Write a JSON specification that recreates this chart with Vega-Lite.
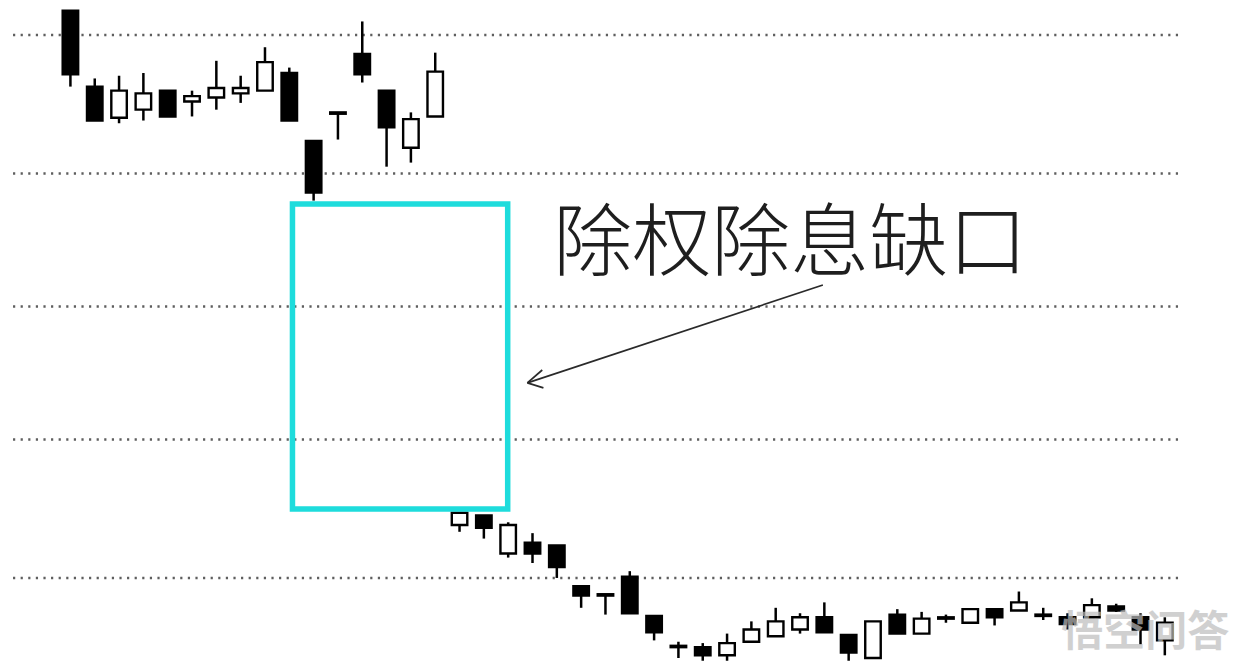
{
  "$schema": "https://vega.github.io/schema/vega-lite/v6.json",
  "width": 1235,
  "height": 664,
  "padding": 0,
  "autosize": {"type": "fit", "contains": "padding"},
  "background": "#ffffff",
  "config": {"view": {"stroke": null}},
  "datasets": {
    "candles": [
      {"i":0,"o":14.18,"c":13.71,"h":14.18,"l":13.62,"d":"down"},
      {"i":1,"o":13.62,"c":13.37,"h":13.68,"l":13.37,"d":"down"},
      {"i":2,"o":13.39,"c":13.59,"h":13.70,"l":13.35,"d":"up"},
      {"i":3,"o":13.45,"c":13.57,"h":13.72,"l":13.37,"d":"up"},
      {"i":4,"o":13.59,"c":13.40,"h":13.59,"l":13.40,"d":"down"},
      {"i":5,"o":13.51,"c":13.55,"h":13.59,"l":13.40,"d":"up"},
      {"i":6,"o":13.54,"c":13.61,"h":13.81,"l":13.45,"d":"up"},
      {"i":7,"o":13.57,"c":13.61,"h":13.70,"l":13.50,"d":"up"},
      {"i":8,"o":13.59,"c":13.80,"h":13.91,"l":13.59,"d":"up"},
      {"i":9,"o":13.72,"c":13.37,"h":13.76,"l":13.37,"d":"down"},
      {"i":10,"o":13.22,"c":12.84,"h":13.22,"l":12.78,"d":"down"},
      {"i":11,"o":13.43,"c":13.42,"h":13.43,"l":13.23,"d":"down"},
      {"i":12,"o":13.86,"c":13.71,"h":14.10,"l":13.65,"d":"down"},
      {"i":13,"o":13.59,"c":13.32,"h":13.59,"l":13.03,"d":"down"},
      {"i":14,"o":13.17,"c":13.38,"h":13.43,"l":13.06,"d":"up"},
      {"i":15,"o":13.40,"c":13.73,"h":13.87,"l":13.40,"d":"up"},
      {"i":16,"o":10.39,"c":10.48,"h":10.48,"l":10.34,"d":"up"},
      {"i":17,"o":10.46,"c":10.37,"h":10.46,"l":10.29,"d":"down"},
      {"i":18,"o":10.18,"c":10.39,"h":10.41,"l":10.15,"d":"up"},
      {"i":19,"o":10.26,"c":10.18,"h":10.33,"l":10.11,"d":"down"},
      {"i":20,"o":10.24,"c":10.08,"h":10.24,"l":10.00,"d":"down"},
      {"i":21,"o":9.94,"c":9.87,"h":9.94,"l":9.78,"d":"down"},
      {"i":22,"o":9.88,"c":9.87,"h":9.88,"l":9.73,"d":"down"},
      {"i":23,"o":10.01,"c":9.74,"h":10.05,"l":9.74,"d":"down"},
      {"i":24,"o":9.72,"c":9.60,"h":9.72,"l":9.54,"d":"down"},
      {"i":25,"o":9.50,"c":9.49,"h":9.53,"l":9.41,"d":"down"},
      {"i":26,"o":9.49,"c":9.43,"h":9.52,"l":9.39,"d":"down"},
      {"i":27,"o":9.43,"c":9.52,"h":9.59,"l":9.39,"d":"up"},
      {"i":28,"o":9.53,"c":9.62,"h":9.68,"l":9.53,"d":"up"},
      {"i":29,"o":9.57,"c":9.68,"h":9.78,"l":9.57,"d":"up"},
      {"i":30,"o":9.62,"c":9.71,"h":9.74,"l":9.59,"d":"up"},
      {"i":31,"o":9.71,"c":9.60,"h":9.82,"l":9.60,"d":"down"},
      {"i":32,"o":9.58,"c":9.45,"h":9.58,"l":9.39,"d":"down"},
      {"i":33,"o":9.41,"c":9.68,"h":9.68,"l":9.41,"d":"up"},
      {"i":34,"o":9.73,"c":9.59,"h":9.77,"l":9.59,"d":"down"},
      {"i":35,"o":9.59,"c":9.70,"h":9.75,"l":9.59,"d":"up"},
      {"i":36,"o":9.71,"c":9.70,"h":9.73,"l":9.67,"d":"down"},
      {"i":37,"o":9.67,"c":9.77,"h":9.77,"l":9.67,"d":"up"},
      {"i":38,"o":9.77,"c":9.71,"h":9.77,"l":9.65,"d":"down"},
      {"i":39,"o":9.76,"c":9.82,"h":9.90,"l":9.76,"d":"up"},
      {"i":40,"o":9.73,"c":9.72,"h":9.78,"l":9.69,"d":"down"},
      {"i":41,"o":9.71,"c":9.66,"h":9.74,"l":9.62,"d":"down"},
      {"i":42,"o":9.71,"c":9.80,"h":9.85,"l":9.71,"d":"up"},
      {"i":43,"o":9.79,"c":9.76,"h":9.81,"l":9.75,"d":"down"},
      {"i":44,"o":9.71,"c":9.62,"h":9.74,"l":9.51,"d":"down"},
      {"i":45,"o":9.54,"c":9.67,"h":9.71,"l":9.43,"d":"up"}
    ],
    "grid": [
      {"x0":-2.36,"x1":45.62,"p":14.0},
      {"x0":-2.36,"x1":45.62,"p":12.98},
      {"x0":-2.36,"x1":45.62,"p":12.0},
      {"x0":-2.36,"x1":45.62,"p":11.02},
      {"x0":-2.36,"x1":45.62,"p":10.0}
    ],
    "box": [{"x0":9.13,"x1":17.98,"p0":12.755,"p1":10.508}],
    "arrow": [
      {"x0":30.94,"p0":12.158,"x1":18.79,"p1":11.437},
      {"x0":18.79,"p0":11.437,"x1":19.40,"p1":11.532},
      {"x0":18.79,"p0":11.437,"x1":19.45,"p1":11.400}
    ],
    "label": [{"x":29.6,"p":12.445,"t":"除权除息缺口"}],
    "mark": [{"x":44.2,"p":9.595,"t":"悟空问答"}]
  },
  "layer": [
    {
      "data": {"name": "grid"},
      "mark": {"type": "rule", "color": "#5e5e5e", "strokeWidth": 2.4, "strokeDash": [2.2, 5.4]},
      "encoding": {
        "x": {"field": "x0", "type": "quantitative", "scale": {"domain": [-2.69, 47.68], "nice": false, "zero": false}, "axis": null},
        "x2": {"field": "x1"},
        "y": {"field": "p", "type": "quantitative", "scale": {"domain": [9.366, 14.258], "nice": false, "zero": false}, "axis": null}
      }
    },
    {
      "data": {"name": "candles"},
      "mark": {"type": "rule", "color": "#000000", "strokeWidth": 2.5},
      "encoding": {
        "x": {"field": "i", "type": "quantitative"},
        "y": {"field": "l", "type": "quantitative"},
        "y2": {"field": "h"}
      }
    },
    {
      "data": {"name": "candles"},
      "mark": {"type": "bar", "width": 15.5, "stroke": "#000000", "strokeWidth": 2.4},
      "encoding": {
        "x": {"field": "i", "type": "quantitative"},
        "y": {"field": "o", "type": "quantitative"},
        "y2": {"field": "c"},
        "fill": {"field": "d", "type": "nominal", "scale": {"domain": ["down", "up"], "range": ["#000000", "#ffffff"]}, "legend": null}
      }
    },
    {
      "data": {"name": "box"},
      "mark": {"type": "rect", "fill": null, "fillOpacity": 0, "stroke": "#1edcdc", "strokeWidth": 5.5},
      "encoding": {
        "x": {"field": "x0", "type": "quantitative"},
        "x2": {"field": "x1"},
        "y": {"field": "p0", "type": "quantitative"},
        "y2": {"field": "p1"}
      }
    },
    {
      "data": {"name": "arrow"},
      "mark": {"type": "rule", "color": "#2a2a2a", "strokeWidth": 1.7},
      "encoding": {
        "x": {"field": "x0", "type": "quantitative"},
        "x2": {"field": "x1"},
        "y": {"field": "p0", "type": "quantitative"},
        "y2": {"field": "p1"}
      }
    },
    {
      "data": {"name": "label"},
      "mark": {"type": "text", "font": "Noto Sans CJK SC", "fontSize": 79, "fontWeight": 300, "color": "#1e1e1e", "align": "center", "baseline": "middle"},
      "encoding": {
        "x": {"field": "x", "type": "quantitative"},
        "y": {"field": "p", "type": "quantitative"},
        "text": {"field": "t"}
      }
    },
    {
      "data": {"name": "mark"},
      "mark": {"type": "text", "font": "Noto Sans CJK SC", "fontSize": 42, "fontWeight": "bold", "color": "#bdbdbd", "opacity": 0.7, "align": "center", "baseline": "middle"},
      "encoding": {
        "x": {"field": "x", "type": "quantitative"},
        "y": {"field": "p", "type": "quantitative"},
        "text": {"field": "t"}
      }
    }
  ]
}
